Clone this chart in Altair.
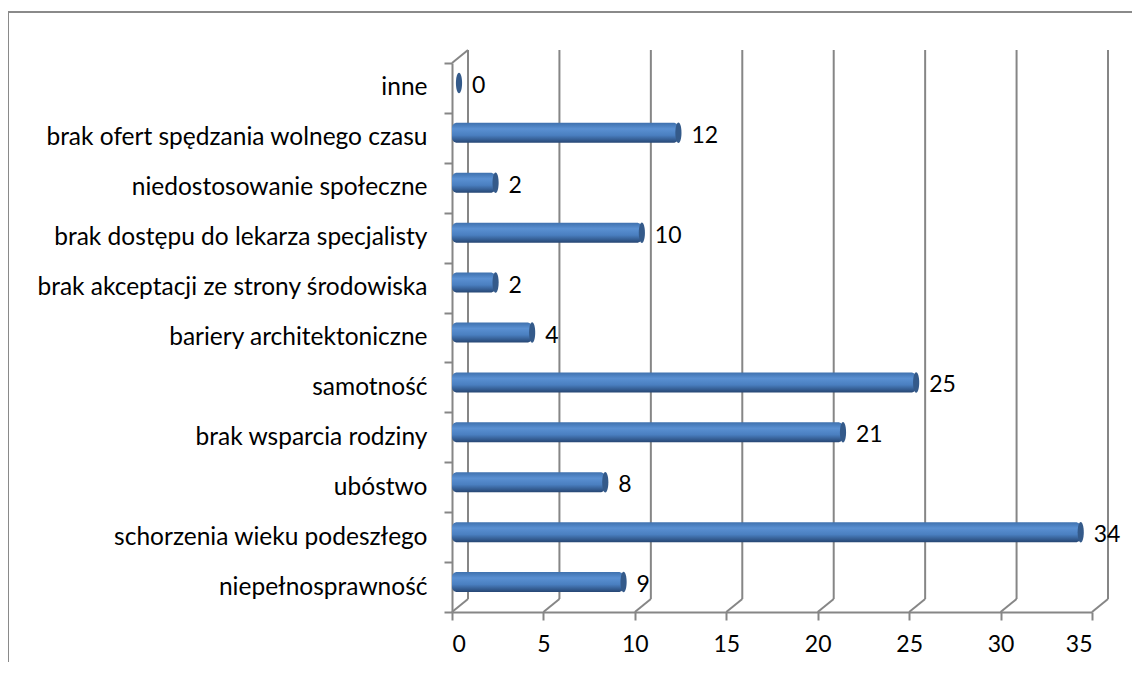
import altair as alt
import pandas as pd

categories = [
    "inne",
    "brak ofert spędzania wolnego czasu",
    "niedostosowanie społeczne",
    "brak dostępu do lekarza specjalisty",
    "brak akceptacji ze strony środowiska",
    "bariery architektoniczne",
    "samotność",
    "brak wsparcia rodziny",
    "ubóstwo",
    "schorzenia wieku podeszłego",
    "niepełnosprawność",
]
values = [0, 12, 2, 10, 2, 4, 25, 21, 8, 34, 9]
ticks = [0, 5, 10, 15, 20, 25, 30, 35]

FONT = "Lato"
FS_Y = 24.5
FS = 23
GRID = "#868686"
W, H = 640, 549
DX, DY = 16, 13  # 3D depth offset

df = pd.DataFrame({"kat": categories, "v": values})
tdf = pd.DataFrame({"t": ticks})
corner = pd.DataFrame({"t": [0]})

xscale = alt.Scale(domain=[0, 35], nice=False)
yscale = alt.Scale(domain=categories, paddingInner=0, paddingOuter=0)

grid_v = alt.Chart(tdf).mark_rule(color=GRID, strokeWidth=2, xOffset=DX).encode(
    x=alt.X("t:Q", scale=xscale, title=None),
    y=alt.value(-DY),
    y2=alt.value(H - DY),
)
grid_d = alt.Chart(tdf).mark_rule(color=GRID, strokeWidth=2, xOffset=DX, x2Offset=0).encode(
    x=alt.X("t:Q", scale=xscale, title=None),
    x2=alt.X2("t"),
    y=alt.value(H - DY),
    y2=alt.value(H),
)
grid_c = alt.Chart(corner).mark_rule(color=GRID, strokeWidth=2, xOffset=0, x2Offset=DX).encode(
    x=alt.X("t:Q", scale=xscale, title=None),
    x2=alt.X2("t"),
    y=alt.value(0),
    y2=alt.value(-DY),
)

border_v = alt.Chart(corner).mark_rule(color="#8a8a8a", strokeWidth=2).encode(
    x=alt.value(-444), y=alt.value(-51), y2=alt.value(700)
)
border_h = alt.Chart(corner).mark_rule(color="#8a8a8a", strokeWidth=2).encode(
    x=alt.value(-444), x2=alt.value(1200), y=alt.value(-51)
)

grad = alt.Gradient(
    gradient="linear",
    stops=[
        alt.GradientStop(color="#3F71AE", offset=0),
        alt.GradientStop(color="#5A90D2", offset=0.3),
        alt.GradientStop(color="#4A7FC0", offset=0.62),
        alt.GradientStop(color="#264673", offset=1),
    ],
    x1=0, x2=0, y1=0, y2=1,
)

bars = (
    alt.Chart(df)
    .transform_filter("datum.v > 0")
    .mark_bar(size=20, color=grad, xOffset=7, x2Offset=4, yOffset=-5, cornerRadius=5)
    .encode(
        x=alt.X(
            "v:Q",
            scale=xscale,
            stack=None,
            title=None,
            axis=alt.Axis(
                values=ticks,
                grid=False,
                domainColor=GRID,
                domainWidth=2,
                tickColor=GRID,
                tickWidth=2,
                tickSize=8,
                labelFont=FONT,
                labelFontSize=FS,
                labelColor="#000000",
                labelPadding=13,
            ),
        ),
        y=alt.Y(
            "kat:N",
            scale=yscale,
            sort=categories,
            title=None,
            axis=alt.Axis(
                tickBand="extent",
                tickSize=8,
                tickColor=GRID,
                tickWidth=2,
                domainColor=GRID,
                domainWidth=2,
                labelFont=FONT,
                labelFontSize=FS_Y,
                labelColor="#000000",
                labelPadding=17,
                labelLimit=0,
            ),
        ),
    )
)

ellipse = "M -0.3 0 A 0.3 1 0 1 0 0.3 0 A 0.3 1 0 1 0 -0.3 0 Z"
caps = alt.Chart(df).mark_point(
    shape=ellipse, size=420, filled=True, color="#345A8A", opacity=1, xOffset=7, yOffset=-5
).encode(
    x=alt.X("v:Q", scale=xscale, title=None),
    y=alt.Y("kat:N", scale=yscale, sort=categories, title=None),
)

labels = alt.Chart(df).mark_text(
    align="left", baseline="middle", dx=20, dy=-2, font=FONT, fontSize=FS, color="#000000"
).encode(
    x=alt.X("v:Q", scale=xscale, title=None),
    y=alt.Y("kat:N", scale=yscale, sort=categories, title=None),
    text=alt.Text("v:Q"),
)

chart = (
    alt.layer(border_v, border_h, grid_v, grid_d, grid_c, bars, caps, labels)
    .properties(
        width=W,
        height=H,
        autosize=alt.AutoSizeParams(type="none"),
        padding={"left": 444, "top": 55, "right": 40, "bottom": 50},
        background="#ffffff",
    )
    .configure_view(stroke=None)
)

chart.save("out.html", embed_options={"renderer": "svg", "actions": False})
